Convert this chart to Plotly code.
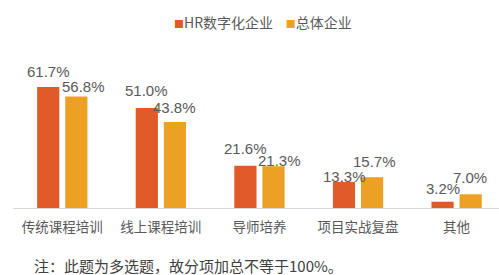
import plotly.graph_objects as go

categories = ["传统课程培训", "线上课程培训", "导师培养", "项目实战复盘", "其他"]
hr_values = [61.7, 51.0, 21.6, 13.3, 3.2]
all_values = [56.8, 43.8, 21.3, 15.7, 7.0]
series_names = ["HR数字化企业", "总体企业"]
footnote = "注：此题为多选题，故分项加总不等于100%。"

# label offsets (pixels) relative to bar tops, as in the reference
hr_label_dx = [0, 0, 0, 0, 0]
hr_label_dy = [16, 17, 17, 5, 13]
all_label_dx = [7, 0, 6, 2, -1]
all_label_dy = [10, 15, 6, 16, 17]

HR_COLOR = "#E05A2A"
ALL_COLOR = "#EDA124"
TEXT = "#595959"
FONT = "Liberation Sans, Noto Sans CJK SC, sans-serif"
CJK = "Noto Sans CJK SC, sans-serif"

xs = list(range(len(categories)))
half = 0.142

fig = go.Figure()
fig.add_trace(go.Bar(x=xs, y=hr_values, name=series_names[0], marker_color=HR_COLOR,
                     marker_line_width=0, showlegend=False))
fig.add_trace(go.Bar(x=xs, y=all_values, name=series_names[1], marker_color=ALL_COLOR,
                     marker_line_width=0, showlegend=False))

annotations = []
for i, v in enumerate(hr_values):
    annotations.append(dict(x=xs[i] - half, y=v, xref="x", yref="y", text=f"{v:.1f}%",
                            showarrow=False, yanchor="middle", xanchor="center",
                            xshift=hr_label_dx[i], yshift=hr_label_dy[i],
                            font=dict(family=FONT, size=15, color=TEXT)))
for i, v in enumerate(all_values):
    annotations.append(dict(x=xs[i] + half, y=v, xref="x", yref="y", text=f"{v:.1f}%",
                            showarrow=False, yanchor="middle", xanchor="center",
                            xshift=all_label_dx[i], yshift=all_label_dy[i],
                            font=dict(family=FONT, size=15, color=TEXT)))

legend_text = (f'<span style="color:{HR_COLOR};font-size:10px">■</span>{series_names[0]}'
               f'&nbsp;&nbsp;&nbsp;&nbsp;<span style="color:{ALL_COLOR};font-size:10px">■</span>{series_names[1]}')
annotations.append(dict(x=(172 - 13) / 486, y=1 + (70 - 22) / 138, xref="paper", yref="paper",
                        text=legend_text, showarrow=False, xanchor="left", yanchor="middle",
                        font=dict(family=CJK, size=14, color=TEXT)))
annotations.append(dict(x=(32 - 13) / 486, y=-(265 - 208) / 138, xref="paper", yref="paper",
                        text=footnote, showarrow=False, xanchor="left", yanchor="middle",
                        font=dict(family=CJK, size=15, color="#404040")))

fig.update_layout(
    width=499, height=275,
    margin=dict(l=13, r=0, t=70, b=67),
    paper_bgcolor="white", plot_bgcolor="white",
    barmode="group", bargap=0.43, bargroupgap=0.21,
    annotations=annotations,
    showlegend=False,
)
fig.update_xaxes(range=[-0.5, 4.43], tickmode="array", tickvals=xs, ticktext=categories,
                 showline=True, linecolor="#D9D9D9", linewidth=1, showgrid=False,
                 zeroline=False, ticks="", ticklabelstandoff=7,
                 tickfont=dict(family=CJK, size=13.5, color=TEXT))
fig.update_yaxes(range=[0, 70.37], visible=False, showgrid=False, zeroline=False)

fig.write_html("out.html")
